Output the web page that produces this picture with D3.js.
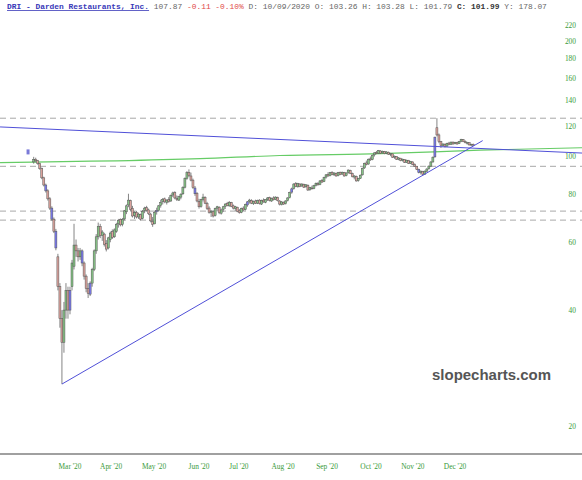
<!DOCTYPE html>
<html><head><meta charset="utf-8">
<script src="https://cdn.jsdelivr.net/npm/d3@7"></script>
<style>body{margin:0;background:#fff}svg{display:block}</style>
</head><body><svg id="c" width="582" height="480"></svg>
<script>
// ---- data ----
const open = [97,98.5,97.7,96,93.2,88.2,84.5,81.6,77.8,73.6,68.9,64.1,55,46,38,33,40,45,40,46,52,59,57,55,57,53,49,45.5,44,47,51,57,62,
66,62.5,63,59.5,58,61,64,62,64,67,68.8,66.8,69,72,75,77,73.5,70.5,71.8,69.8,
70.8,69.2,72.5,73.8,72.8,71,68,67,72,72.6,74.8,76.6,77.8,76.2,77.4,76.8,79.6,80.8,78,77.2,
78.6,80.2,83.4,88,91.2,89.2,87,83,80.4,76.6,74.4,77.6,78.4,75.6,73.6,71.6,72,70.4,73.6,74,
71.4,73,74.4,75.6,74.6,76,74.6,73.4,74,72.4,71.8,73.6,73,75,76.6,77,75.6,76.8,75.8,77.2,
75.4,77.2,76.2,77.4,78.4,76.8,78.2,77.6,78.4,76.8,75.2,76.2,75.6,77,78.4,81,82.8,85.2,83.6,85,
84,84.8,83.6,84.4,82.2,83,82.8,84.4,85.2,84.8,86.8,86.2,88.6,90,89.4,91.2,89.8,90.6,89.4,91.2,
90.2,91,89.4,91,92.2,90.4,88.6,89,86.8,88,89.8,93.6,96.4,95.8,98.8,98.4,101.2,102.6,102.2,103.6,
102.4,103.2,102.2,102.8,101.6,101.8,99.8,100.2,98.6,99.2,97.8,98.4,96.8,97.8,96.2,97,95.6,94.4,92.8,91,
91.6,90.2,91.8,93.2,94.6,97,100,119,114,109.5,107,107.8,106.6,108.6,107.8,109.2,108.2,109,108.2,109.8,
110.8,109.6,108.8,108.8,107.4,107.8];
const high = [100,99.5,98.2,96.5,93.8,88.8,85.2,82.4,78.6,74.4,69.6,65,56,47,40,42,47,46,46,54,67,61,58,58,57.5,53.5,49.5,47,47.5,51.5,57.5,63,67.5,
67,64.5,63.5,60.8,62,64,64.8,65.2,67.4,69,69.2,69.4,72.8,75.2,80.2,77.4,74.6,72.2,72.4,71.6,
71.2,72.8,74.2,74.6,73.4,71.6,69.8,72.2,73.8,75,77.4,78.2,78.4,77.6,78.6,79.8,81.2,81.4,79.4,79.2,
80.4,83.8,88.4,91.8,92.8,91,87.8,84,81,77.8,77.8,80.2,79,76.4,74.4,72.8,72.6,73.8,74.6,74.4,
73.4,74.6,75.8,76.4,76.8,76.4,75.2,74.6,74.2,73.2,73.8,74.4,75.6,76.8,77.8,77.6,77,77.4,77.4,77.6,
77.4,78,77.6,78.6,78.8,78.4,79,79,78.8,77.2,76.8,76.6,77.2,78.6,81.2,83.2,85.4,86,85.6,85.4,
85.4,85.2,85,84.8,83.6,84.2,84.6,85.8,86,87,87.6,88.8,90.2,91.2,91.4,91.8,91.2,91,91.4,91.6,
91.6,91.4,91.2,92.8,92.6,91,89.6,89.4,88.2,90,93.8,96.6,97.8,99,100.2,101.4,102.8,103.6,104.2,104,
103.8,103.6,103.4,103.2,102.4,102,100.8,100.4,99.8,99.4,99,98.6,98.4,98.2,97.6,97.4,96.2,94.8,93.2,92.2,
92,92.2,93.4,95,97.4,100.2,112.8,126,115,110,108.4,108.4,108.8,109.4,109.6,109.6,109.4,109.4,110,111.4,
111.2,110.4,109.4,109,108.2,108.3];
const low = [96,96.8,95.4,92.6,87.5,83.8,80.8,77,72.8,68.2,63.4,57.2,45,36,25.7,31,38,38,39,45,51,55,53.5,54,52,48,44.5,43,43.5,46,50.5,56,61,
61.5,60.5,58.5,56.8,57.5,60,61.2,61.6,63.5,65.5,66,66,68.4,71,74,72.4,69.6,69,69.2,69,
68.4,68.8,71.4,72,70.6,67.6,65.8,66.8,70.8,72,73.8,75.2,75.8,75.2,76,76.4,78.6,77.6,76.8,76.8,
77.6,79.6,82.8,87.2,88.6,86.4,82.6,79.2,76.2,73.4,73.8,76.6,75.4,72.8,71.2,69.8,69.6,70,72.2,71,
70.8,72,73.2,74.4,74.2,74,73,72.4,71.8,71.2,71.4,72.4,72.6,74.2,75.6,75.4,75,75.4,75.4,75.2,
75,76,75.8,76.8,76.6,76.4,77,77.2,76.6,74.8,74.8,75,75.2,76.6,78,80.2,82.2,83.4,83.2,83.4,
83.6,83,83.2,81.6,81.6,82.2,82.4,83.8,84.2,84.4,85.6,86,87.8,88.8,89,89.6,89.2,88.8,89,89.6,
89.8,88.8,89,90.4,90.2,88.4,87.4,86.2,86.2,87.6,89.4,93,95,95.4,97.6,98,100.2,101.6,101.8,101.8,
102,101.6,101.6,101.2,100.4,99.4,98.8,98.2,98,97.4,97.2,96.4,96.4,95.8,95.8,95.2,94.2,92.4,90.6,90,
89.4,89.8,91.2,92.6,94.2,96.6,99.5,113,108.5,105.5,106.2,105.8,106.2,107.2,107.4,107.6,107.8,107.6,108,109.2,
109.2,108.4,107.6,107,106.6,106.9];
const close = [98.5,97.7,96,93.2,88.2,84.5,81.6,77.8,73.6,68.9,64.1,58,46,38,33,40,45,40,45,53,59,57,55,57,53,49,45.5,44.2,47,51,57,62,66,
62.5,63.8,59.2,57.6,61.6,63.4,61.8,64.6,66.8,68.4,66.6,68.8,72.4,74.6,77.2,73,70.2,71.6,69.8,71,
68.9,72.2,73.6,72.6,71.2,68.2,66.8,71.8,72.6,74.6,76.2,77.6,76.4,77.2,76.6,79.4,80.6,78.2,77.4,78.8,
80,83.4,88,91,89.4,87,83.2,80.2,76.8,74.2,77.4,78.6,75.8,73.4,71.8,72.2,70.2,73.4,74.2,71.6,
72.8,74.2,75.4,74.8,76.2,74.4,73.6,74.2,72.2,71.6,73.4,72.8,75.2,76.4,77.2,75.8,76.6,75.8,77,75.6,
77,76.4,77.4,78.2,77,78,77.4,78.6,77,75.4,76.4,75.4,76.8,78.2,80.8,82.6,85,83.8,85.2,83.8,
85,83.4,84.6,82,83.2,82.6,84.2,85.4,84.6,86.6,86,88.4,89.8,89.2,91,90,90.8,89.2,91,90,
91.2,89.2,90.8,92.4,90.6,88.8,89.2,86.6,87.8,89.6,93.4,96.2,95.6,98.6,98.2,101,102.4,102,103.8,102.2,
103.4,102,103,101.6,102,99.8,100.4,98.6,99.4,97.8,98.6,96.8,98,96.2,97.2,95.6,94.6,92.8,91,91.8,
90,91.8,93,94.6,97,99.8,112.5,114,109.5,107,108,106.4,108.4,107.6,109.2,108,109,108,109.6,111,
109.6,108.8,109,107.4,107.8,107.2];
const blueCandles = [6, 9, 11, 18, 24, 28, 61, 80, 106, 128, 191, 199];
const monthLabels = ["Mar '20","Apr '20","May '20","Jun '20","Jul '20","Aug '20","Sep '20","Oct '20","Nov '20","Dec '20"];
const monthIdx = [18, 38.4, 59.7, 82, 101.8, 123.7, 145.5, 167.3, 188.1, 209];
const yTicks = [20, 40, 60, 80, 100, 120, 140, 160, 180, 200, 220];
const levels = [126, 94.5, 72.3, 68.5];
const downTrendIdx = [-16.7, 272], downTrendVal = [119.6, 102.3];
const upTrendIdx = [14, 222.7], upTrendVal = [25.7, 110.2];
const maIdx = [-16.7, 82.6, 122, 171.8, 221.4, 272];
const maVal = [96.6, 98.9, 100.8, 101.9, 104.1, 105.6];
const signalIdx = [-2.8], signalVal = [103];

// ---- chart ----
const svg = d3.select("#c");
const W = 582;
const x = d3.scaleLinear().domain([0, 218]).range([33.7, 473.2]);
const y = d3.scaleLog().domain([20, 220]).range([426, 25]);
const data = close.map((c, i) => ({i, o: open[i], h: Math.max(high[i], open[i], c), l: Math.min(low[i], open[i], c), c}));

// header
const hdr = svg.append("text").attr("x", 7).attr("y", 9)
  .attr("font-family", "'Liberation Mono', 'DejaVu Sans Mono', monospace")
  .attr("font-size", "7.9px").attr("xml:space", "preserve");
const parts = [
  ["DRI - Darden Restaurants, Inc.", "#3838b8", "bold", true],
  [" 107.87", "#666", "normal"],
  [" -0.11 -0.10%", "#e04848", "normal"],
  [" D: 10/09/2020 O: 103.26 H: 103.28 L: 101.79 ", "#666", "normal"],
  ["C: 101.99", "#333", "bold"],
  [" Y: 178.07", "#666", "normal"]
];
parts.forEach(p => {
  const t = hdr.append("tspan").text(p[0]).attr("fill", p[1]).attr("font-weight", p[2]);
  if (p[3]) t.attr("text-decoration", "underline");
});

// dashed levels
svg.append("g").selectAll("line").data(levels).join("line")
  .attr("x1", 0).attr("x2", W).attr("y1", d => y(d)).attr("y2", d => y(d))
  .attr("stroke", "#a8a8a8").attr("stroke-width", 1).attr("stroke-dasharray", "6,4");

// x axis line
svg.append("line").attr("x1", 0).attr("x2", W).attr("y1", 454).attr("y2", 454)
  .attr("stroke", "#a0a0a0").attr("stroke-width", 2);

// y tick labels
svg.append("g").selectAll("text").data(yTicks).join("text")
  .attr("x", 576).attr("y", d => y(d) + 2.6).attr("text-anchor", "end")
  .attr("font-family", "'Liberation Serif', 'DejaVu Serif', serif").attr("font-size", "7.4px")
  .attr("fill", "#3a9a3a").text(d => d);

// x tick labels
svg.append("g").selectAll("text").data(monthLabels).join("text")
  .attr("x", (d, i) => x(monthIdx[i])).attr("y", 468.6).attr("text-anchor", "middle")
  .attr("font-family", "'Liberation Serif', 'DejaVu Serif', serif").attr("font-size", "7.4px")
  .attr("fill", "#3a9a3a").text(d => d);

// watermark
svg.append("text").attr("x", 432).attr("y", 380)
  .attr("font-family", "'Liberation Sans', Arial, sans-serif").attr("font-weight", "bold")
  .attr("font-size", "15px").attr("fill", "#555").attr("textLength", 119)
  .attr("lengthAdjust", "spacingAndGlyphs").text("slopecharts.com");

// long-term average (green)
const line = d3.line().x(d => x(d[0])).y(d => y(d[1])).curve(d3.curveMonotoneX);
svg.append("path").datum(maIdx.map((d, i) => [d, maVal[i]]))
  .attr("d", line).attr("fill", "none").attr("stroke", "#66cc66").attr("stroke-width", 1.2);

// candles
const g = svg.append("g");
const bw = 2.0;
const colorOf = d => blueCandles.includes(d.i) ? "#7a7af0" : (d.c >= d.o ? "#86c486" : "#dba29c");
g.selectAll("line.w").data(data).join("line").attr("class", "w")
  .attr("x1", d => x(d.i)).attr("x2", d => x(d.i))
  .attr("y1", d => y(d.h)).attr("y2", d => y(d.l))
  .attr("stroke", "#666").attr("stroke-width", 0.8);
g.selectAll("rect").data(data).join("rect")
  .attr("x", d => x(d.i) - bw / 2).attr("width", bw)
  .attr("y", d => y(Math.max(d.o, d.c)))
  .attr("height", d => Math.max(0.8, Math.abs(y(d.o) - y(d.c))))
  .attr("fill", colorOf).attr("stroke", "#555").attr("stroke-width", 0.5);

// trend lines
const tl = d3.line().x(d => x(d[0])).y(d => y(d[1]));
svg.append("path").datum(downTrendIdx.map((d, i) => [d, downTrendVal[i]]))
  .attr("d", tl).attr("fill", "none").attr("stroke", "#5050d8").attr("stroke-width", 1);
svg.append("path").datum(upTrendIdx.map((d, i) => [d, upTrendVal[i]]))
  .attr("d", tl).attr("fill", "none").attr("stroke", "#5050d8").attr("stroke-width", 1);

// signal marker
svg.append("g").selectAll("rect").data(signalIdx).join("rect")
  .attr("x", d => x(d) - 1.5).attr("y", (d, i) => y(signalVal[i]) - 2.5)
  .attr("width", 3).attr("height", 5).attr("fill", "#7a7ad8");
</script></body></html>
